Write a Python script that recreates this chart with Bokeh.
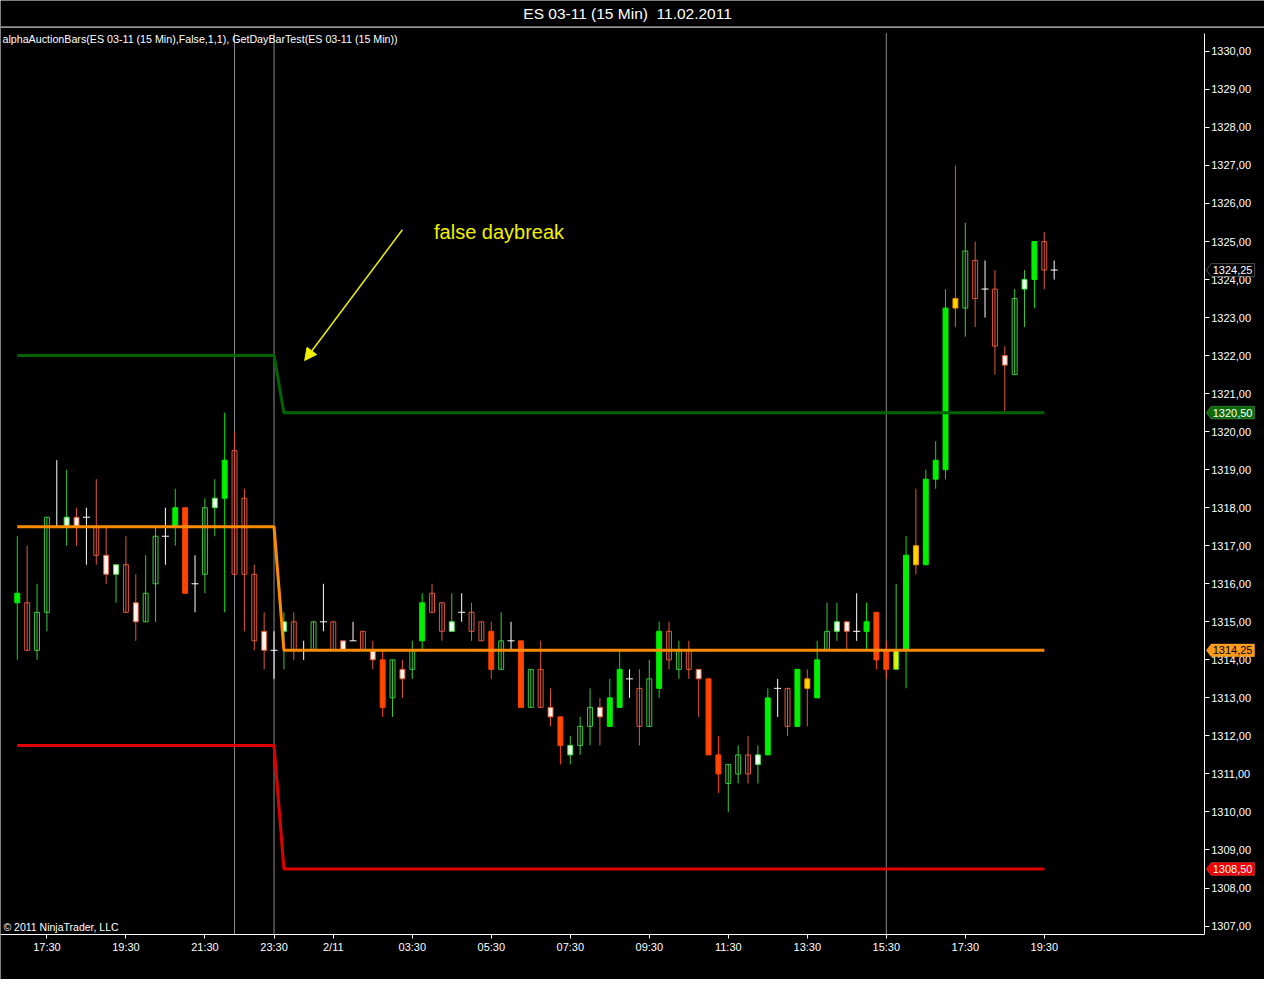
from bokeh.plotting import figure
from bokeh.models import (Range1d, FixedTicker, CustomJSTickFormatter, LinearAxis, Span,
                          Label, Arrow, NormalHead, PolyAnnotation, ColumnDataSource)
from bokeh.embed import file_html
from bokeh.resources import INLINE

# ---------------- data ----------------
opens = [1315.5, 1315.5, 1314.25, 1315.25, 1317.5, 1317.5, 1317.75, 1317.75, 1317.5, 1316.75,
         1316.25, 1316.5, 1315.5, 1315.0, 1316.0, 1317.25, 1317.5, 1318.0, 1316.0, 1316.25,
         1318.0, 1318.25, 1319.5, 1318.25, 1316.25, 1314.75, 1314.25, 1314.75, 1315.0, 1314.25,
         1314.25, 1315.0, 1315.0, 1314.5, 1314.5, 1314.75, 1314.25, 1314.0, 1313.0, 1313.75,
         1313.75, 1314.5, 1315.75, 1315.5, 1314.75, 1315.25, 1315.25, 1315.0, 1314.75, 1313.75,
         1314.5, 1314.5, 1312.75, 1313.75, 1312.75, 1312.5, 1311.5, 1311.75, 1312.25, 1312.75,
         1312.25, 1312.75, 1313.5, 1313.25, 1312.25, 1313.25, 1314.75, 1313.75, 1314.25, 1313.75,
         1313.5, 1311.5, 1310.75, 1311.0, 1311.5, 1311.25, 1311.5, 1313.25, 1313.25, 1312.25,
         1313.5, 1313.0, 1314.25, 1314.75, 1315.0, 1314.75, 1314.75, 1315.25, 1314.25, 1313.75,
         1314.25, 1317.0, 1316.5, 1318.75, 1319.0, 1323.5, 1323.25, 1324.5, 1323.75, 1323.75,
         1322.0, 1321.5, 1323.75, 1324.0, 1325.0, 1324.25]
highs = [1317.25, 1317.0, 1316.0, 1317.75, 1319.25, 1319.0, 1318.0, 1318.0, 1318.75, 1317.5,
         1316.5, 1317.25, 1316.25, 1316.75, 1317.5, 1318.0, 1318.5, 1318.0, 1316.75, 1318.25,
         1318.75, 1320.5, 1320.0, 1318.5, 1316.5, 1315.25, 1314.75, 1315.25, 1315.25, 1314.5,
         1315.0, 1316.0, 1315.0, 1314.5, 1315.0, 1314.75, 1314.5, 1314.25, 1314.0, 1314.0,
         1314.5, 1315.75, 1316.0, 1315.5, 1315.75, 1315.75, 1315.5, 1315.0, 1315.0, 1315.25,
         1315.0, 1314.5, 1313.75, 1314.5, 1313.25, 1312.5, 1312.0, 1312.5, 1313.25, 1313.0,
         1313.5, 1314.25, 1313.75, 1313.75, 1314.0, 1315.0, 1315.0, 1314.5, 1314.5, 1313.75,
         1313.5, 1312.0, 1311.25, 1311.75, 1312.0, 1311.75, 1313.25, 1313.5, 1313.25, 1313.75,
         1313.75, 1314.5, 1315.5, 1315.5, 1315.0, 1315.75, 1315.5, 1315.25, 1314.5, 1316.0,
         1317.25, 1318.5, 1319.0, 1319.75, 1323.75, 1327.0, 1325.5, 1325.0, 1324.5, 1324.25,
         1322.25, 1323.75, 1324.25, 1325.0, 1325.25, 1324.5]
lows = [1314.0, 1314.25, 1314.0, 1314.75, 1317.5, 1317.0, 1317.0, 1316.5, 1316.5, 1316.0,
        1315.5, 1315.25, 1314.5, 1315.0, 1315.0, 1316.5, 1317.0, 1315.75, 1315.25, 1315.75,
        1317.25, 1315.25, 1316.25, 1314.75, 1314.25, 1313.75, 1313.5, 1313.75, 1314.0, 1314.0,
        1314.25, 1314.75, 1314.25, 1314.25, 1314.5, 1314.25, 1313.75, 1312.5, 1312.5, 1313.0,
        1313.5, 1314.25, 1315.25, 1314.5, 1314.75, 1315.0, 1314.5, 1314.5, 1313.5, 1313.75,
        1314.25, 1312.75, 1312.75, 1312.75, 1312.25, 1311.25, 1311.25, 1311.5, 1311.75, 1311.75,
        1312.25, 1312.75, 1313.0, 1311.75, 1312.25, 1313.0, 1313.75, 1313.5, 1313.5, 1312.5,
        1311.5, 1310.5, 1310.0, 1310.75, 1310.75, 1310.75, 1311.5, 1312.5, 1312.0, 1312.25,
        1312.25, 1313.0, 1314.25, 1314.5, 1314.25, 1314.5, 1314.25, 1313.75, 1313.5, 1313.75,
        1313.25, 1316.25, 1316.5, 1318.5, 1318.75, 1322.75, 1322.5, 1322.75, 1323.0, 1321.5,
        1320.5, 1321.5, 1322.75, 1323.25, 1323.75, 1324.0]
closes = [1315.75, 1314.25, 1315.25, 1317.75, 1317.5, 1317.75, 1317.5, 1317.75, 1316.75, 1316.25,
          1316.5, 1315.25, 1315.0, 1315.75, 1317.25, 1317.25, 1318.0, 1315.75, 1316.0, 1318.0,
          1318.25, 1319.25, 1316.25, 1316.25, 1314.5, 1314.25, 1314.25, 1315.0, 1314.25, 1314.25,
          1315.0, 1315.0, 1314.25, 1314.25, 1314.5, 1314.25, 1314.0, 1312.75, 1314.0, 1313.5,
          1314.25, 1315.5, 1315.25, 1314.75, 1315.0, 1315.25, 1314.75, 1314.5, 1313.75, 1314.5,
          1314.5, 1312.75, 1313.75, 1312.75, 1312.5, 1311.75, 1311.75, 1312.25, 1312.75, 1312.5,
          1313.0, 1313.75, 1313.5, 1312.25, 1313.5, 1314.75, 1314.0, 1314.25, 1313.75, 1313.5,
          1311.5, 1311.0, 1311.25, 1311.5, 1311.0, 1311.5, 1313.0, 1313.25, 1312.25, 1313.75,
          1313.25, 1314.0, 1314.75, 1315.0, 1314.75, 1314.75, 1315.0, 1314.0, 1313.75, 1314.25,
          1316.75, 1316.5, 1318.75, 1319.25, 1323.25, 1323.25, 1324.75, 1323.5, 1323.75, 1322.25,
          1321.75, 1323.5, 1324.0, 1325.0, 1324.25, 1324.25]
# bar classification of the auction-bar indicator
bar_type = ["G", "r", "g", "g", "d", "wg", "wr", "d", "r", "wr",
            "wg", "r", "wr", "g", "g", "d", "G", "R", "d", "g",
            "wg", "G", "r", "r", "r", "wr", "d", "wg", "r", "d",
            "g", "d", "r", "wr", "d", "r", "wr", "R", "g", "wr",
            "g", "G", "r", "r", "wg", "d", "r", "r", "R", "g",
            "d", "R", "g", "r", "wr", "R", "wg", "g", "g", "wr",
            "G", "G", "d", "r", "g", "G", "r", "g", "r", "wr",
            "R", "R", "g", "g", "r", "wg", "G", "d", "r", "G",
            "y", "G", "g", "wg", "wr", "d", "G", "R", "R", "yg",
            "G", "y", "G", "G", "G", "y", "g", "r", "d", "r",
            "wr", "g", "wg", "G", "r", "d"]

# day high / mid / low levels (bar index, price)
level_x = [0, 26, 27, 104]
day_high = [1322.0, 1322.0, 1320.5, 1320.5]
day_mid = [1317.5, 1317.5, 1314.25, 1314.25]
day_low = [1311.75, 1311.75, 1308.5, 1308.5]

session_breaks = [22, 26, 88]

x_tick_idx = [3, 11, 19, 26, 32, 40, 48, 56, 64, 72, 80, 88, 96, 104]
x_tick_labels = ["17:30", "19:30", "21:30", "23:30", "2/11", "03:30", "05:30", "07:30",
                 "09:30", "11:30", "13:30", "15:30", "17:30", "19:30"]
y_ticks = list(range(1307, 1331))

# ---------------- styles ----------------
FONT = "Liberation Sans"
styles = {  # fill, outline, wick
    "G": ("#00F000", "#00F000", "#00E600"),
    "R": ("#FF4500", "#FF4500", "#FF4500"),
    "g": (None, "#3CC83C", "#3CC83C"),
    "r": (None, "#E0583A", "#E0583A"),
    "wg": ("#F0FFF0", "#46E646", "#3CC83C"),
    "wr": ("#FFF4EE", "#E0583A", "#E0583A"),
    "d": (None, "#FFFFFF", "#FFFFFF"),
    "y": ("#FFD700", "#FF8C00", "#E0583A"),
    "yg": ("#E6F000", "#3CC83C", "#3CC83C"),
}

n = len(opens)
idx = list(range(n))

wick_src = ColumnDataSource(dict(x=idx, h=highs, l=lows,
                                 c=[styles[t][2] for t in bar_type]))
body = dict(x=[], top=[], bottom=[], fill=[], line=[])
doji = dict(x=[], y=[])
for i in idx:
    t = bar_type[i]
    if t == "d":
        doji["x"].append(i)
        doji["y"].append(closes[i])
    else:
        body["x"].append(i)
        body["top"].append(max(opens[i], closes[i]))
        body["bottom"].append(min(opens[i], closes[i]))
        body["fill"].append(styles[t][0] or "rgba(0,0,0,0)")
        body["line"].append(styles[t][1])
body_src = ColumnDataSource(body)
doji_src = ColumnDataSource(doji)

# the frame covers the whole canvas; axes are pinned at fixed locations
X0, X1 = -1.7, 126.3
Y0, Y1 = 1305.594, 1331.338
AXIS_X = 120.2        # price axis position (bar-index units)
AXIS_Y = 1306.784     # time axis position (price units)
TOP_Y = 1330.639      # separator under the title
AXIS_TOP = 1330.48

p = figure(width=1264, height=979, output_backend="svg", toolbar_location=None,
           x_range=Range1d(X0, X1), y_range=Range1d(Y0, Y1),
           x_axis_location=None, y_axis_location=None,
           background_fill_color="black", border_fill_color="black",
           outline_line_color=None,
           min_border_left=0, min_border_right=0, min_border_top=0, min_border_bottom=0)
p.xgrid.visible = False
p.ygrid.visible = False

ya = LinearAxis(fixed_location=AXIS_X, bounds=(AXIS_Y, AXIS_TOP),
                ticker=FixedTicker(ticks=y_ticks),
                formatter=CustomJSTickFormatter(code="return tick.toFixed(2).replace('.', ',');"))
xa = LinearAxis(fixed_location=AXIS_Y, bounds=(X0, AXIS_X),
                ticker=FixedTicker(ticks=x_tick_idx),
                major_label_overrides={k: v for k, v in zip(x_tick_idx, x_tick_labels)})
for ax in (xa, ya):
    ax.axis_line_color = "white"
    ax.major_tick_line_color = "white"
    ax.minor_tick_line_color = None
    ax.major_tick_in = 0
    ax.major_label_text_color = "white"
    ax.major_label_text_font = FONT
    ax.major_label_text_font_size = "11px"
ya.major_tick_out = 5
ya.major_label_standoff = 2
xa.major_tick_out = 4
xa.major_label_standoff = 3
p.add_layout(ya, "right")
p.add_layout(xa, "below")

# separator line under the title, across the whole width
p.add_layout(Span(location=TOP_Y, dimension="width", line_color="white", line_width=1))

# session break lines
p.segment(x0=session_breaks, y0=[AXIS_Y] * len(session_breaks),
          x1=session_breaks, y1=[AXIS_TOP] * len(session_breaks),
          line_color="#8C8C8C", line_width=1)

# candles
p.segment(x0="x", y0="l", x1="x", y1="h", line_color="c", line_width=1, source=wick_src)
p.vbar(x="x", width=0.5, top="top", bottom="bottom", fill_color="fill",
       line_color="line", line_width=1, source=body_src)
p.scatter(x="x", y="y", marker="dash", size=7, line_color="white", line_width=1,
          source=doji_src)

# level lines
p.line(level_x, day_high, line_color="#006400", line_width=3)
p.line(level_x, day_mid, line_color="#FF8C00", line_width=3)
p.line(level_x, day_low, line_color="#E00000", line_width=3)

# price flags on the axis
flag_vals = [closes[-1], day_high[-1], day_mid[-1], day_low[-1]]
flag_styles = [("#000000", "#FFFFFF", "#FFFFFF"), ("#0B6B0B", "#9AD09A", "#FFFFFF"),
               ("#FF9A1A", "#FFC070", "#000000"), ("#F00000", "#FF9090", "#FFFFFF")]
hh = 6.5 / 38.65
for v, (fc, lc, tc) in zip(flag_vals, flag_styles):
    p.add_layout(PolyAnnotation(xs=[120.4, 120.9, 125.3, 125.3, 120.9],
                                ys=[v, v + hh, v + hh, v - hh, v - hh],
                                fill_color=fc, fill_alpha=1, line_color=lc, line_width=1))
    p.add_layout(Label(x=121.05, y=v, text=f"{v:.2f}".replace(".", ","),
                       text_color=tc, text_font=FONT, text_font_size="11px",
                       text_baseline="middle", text_align="left"))

# texts
p.add_layout(Label(x=61.8, y=1331.0, text="ES 03-11 (15 Min)\u00a0 11.02.2011",
                   text_color="white", text_font=FONT, text_font_size="15.5px",
                   text_align="center", text_baseline="middle"))
p.add_layout(Label(x=-1.5, y=1330.33,
                   text="alphaAuctionBars(ES 03-11 (15 Min),False,1,1), GetDayBarTest(ES 03-11 (15 Min))",
                   text_color="white", text_font=FONT, text_font_size="10.7px",
                   text_align="left", text_baseline="middle"))
p.add_layout(Label(x=-1.4, y=1306.965, text="\u00a9 2011 NinjaTrader, LLC",
                   text_color="white", text_font=FONT, text_font_size="10.5px",
                   text_align="left", text_baseline="middle"))
p.add_layout(Label(x=42.2, y=1325.26, text="false daybreak", text_color="#F0F000",
                   text_font=FONT, text_font_size="20px", text_align="left",
                   text_baseline="middle"))
p.add_layout(Arrow(end=NormalHead(size=12, fill_color="#F0F000", line_color="#F0F000"),
                   x_start=39.0, y_start=1325.31, x_end=29.1, y_end=1321.87,
                   line_color="#F0F000", line_width=1.5))

open("out.html", "w").write(file_html(p, INLINE))
